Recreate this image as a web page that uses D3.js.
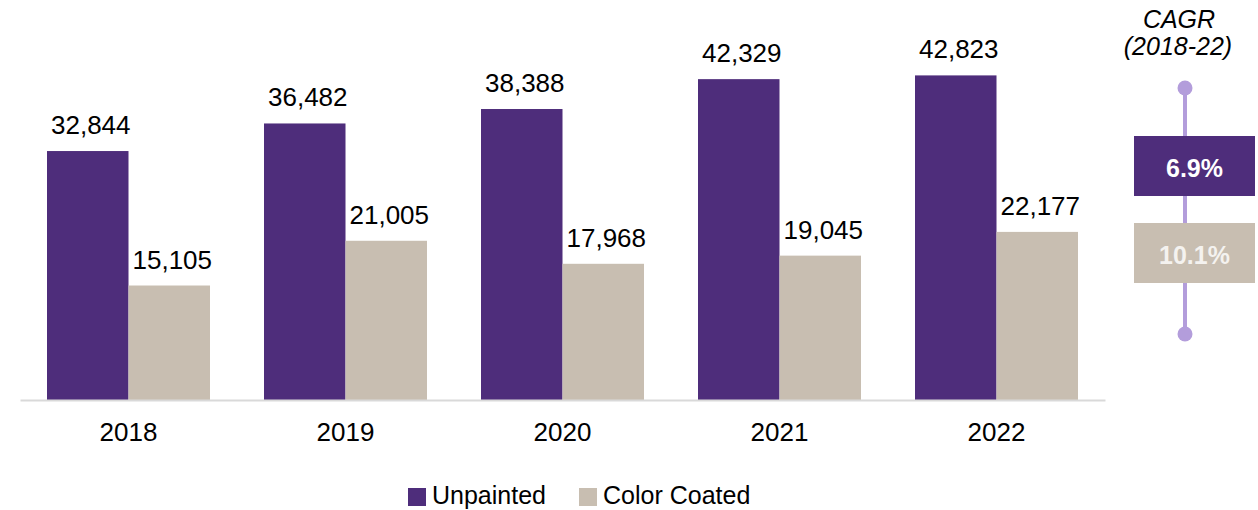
<!DOCTYPE html>
<html>
<head>
  <script src="https://d3js.org/d3.v7.min.js"></script>
  <style>
    body { margin: 0; background: #fff; }
    svg { display: block; font-family: Arial, "Liberation Sans", sans-serif; }
    .value { font-size: 26px; fill: #000; text-anchor: middle; }
    .axis--x text { font-size: 26px; fill: #000; font-family: Arial, "Liberation Sans", sans-serif; }
    .legend text { font-size: 25px; fill: #000; }
  </style>
</head>
<body>
  <svg id="chart"></svg>
  <script>
    var years = ["2018", "2019", "2020", "2021", "2022"];
    var seriesNames = ["Unpainted", "Color Coated"];
    var unpainted = [32844, 36482, 38388, 42329, 42823];
    var colorCoated = [15105, 21005, 17968, 19045, 22177];
    var cagr = ["6.9%", "10.1%"];
    var colors = ["#4e2d7b", "#c8beb1"];

    var W = 1258, H = 510;
    var svg = d3.select("#chart").attr("width", W).attr("height", H);

    var baseY = 400;
    var x = d3.scaleBand().domain(years).range([20, 1105]).paddingInner(0).paddingOuter(0);
    var inner = d3.scaleBand().domain(seriesNames).range([27, x.bandwidth() - 27]);
    var y = d3.scaleLinear().domain([0, 52770]).range([baseY, 0]);

    var rows = years.map(function(yr, i) {
      return { year: yr, vals: [unpainted[i], colorCoated[i]] };
    });

    var groups = svg.append("g").selectAll("g")
      .data(rows).enter().append("g")
      .attr("transform", function(d) { return "translate(" + x(d.year) + ",0)"; });

    groups.selectAll("rect")
      .data(function(d) { return d.vals.map(function(v, j) { return { name: seriesNames[j], v: v, j: j }; }); })
      .enter().append("rect")
      .attr("x", function(d) { return inner(d.name); })
      .attr("y", function(d) { return y(d.v); })
      .attr("width", inner.bandwidth())
      .attr("height", function(d) { return baseY - y(d.v); })
      .attr("fill", function(d) { return colors[d.j]; });

    groups.selectAll("text.value")
      .data(function(d) { return d.vals.map(function(v, j) { return { name: seriesNames[j], v: v }; }); })
      .enter().append("text")
      .attr("class", "value")
      .attr("x", function(d) { return inner(d.name) + inner.bandwidth() / 2 + 3; })
      .attr("y", function(d) { return y(d.v) - 17; })
      .text(function(d) { return d3.format(",")(d.v); });

    // x axis
    var xAxis = svg.append("g")
      .attr("class", "axis axis--x")
      .attr("transform", "translate(0," + baseY + ")")
      .call(d3.axisBottom(x).tickSize(0).tickPadding(24));
    xAxis.select(".domain").attr("stroke", "#d9d9d9").attr("stroke-width", 2);
    xAxis.selectAll("text").attr("dy", "0.71em").attr("y", 23);

    // legend
    var legend = svg.append("g").attr("class", "legend");
    var legX = [408, 579];
    seriesNames.forEach(function(n, i) {
      legend.append("rect").attr("x", legX[i]).attr("y", 488).attr("width", 18).attr("height", 18).attr("fill", colors[i]);
      legend.append("text").attr("x", legX[i] + 24).attr("y", 504).text(n);
    });

    // CAGR panel
    var cx = 1185;
    var cagrG = svg.append("g");
    cagrG.append("text").attr("x", 1179).attr("y", 28).attr("text-anchor", "middle")
      .style("font-size", "25px").style("font-style", "italic").text("CAGR");
    cagrG.append("text").attr("x", 1178).attr("y", 55).attr("text-anchor", "middle")
      .style("font-size", "25px").style("font-style", "italic").text("(2018-22)");
    cagrG.append("line").attr("x1", cx).attr("x2", cx).attr("y1", 88).attr("y2", 334)
      .attr("stroke", "#b39ddb").attr("stroke-width", 4);
    [88, 334].forEach(function(cy) {
      cagrG.append("circle").attr("cx", cx).attr("cy", cy).attr("r", 7.5).attr("fill", "#b39ddb");
    });
    var boxY = [136, 223];
    var boxText = ["#ffffff", "#f4f2ef"];
    cagr.forEach(function(v, i) {
      cagrG.append("rect").attr("x", 1134).attr("y", boxY[i]).attr("width", 121).attr("height", 60).attr("fill", colors[i]);
      cagrG.append("text").attr("x", 1194.5).attr("y", boxY[i] + 40.5).attr("text-anchor", "middle")
        .style("font-size", "25px").style("font-weight", "bold").attr("fill", boxText[i]).text(v);
    });
  </script>
</body>
</html>
